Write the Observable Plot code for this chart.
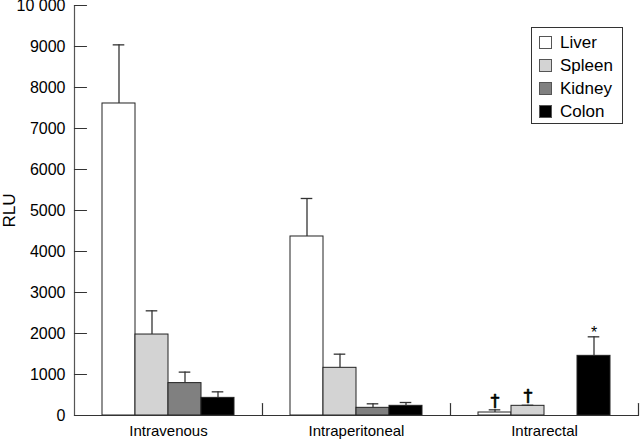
<!DOCTYPE html>
<html><head><meta charset="utf-8">
<script src="https://cdn.jsdelivr.net/npm/d3@7"></script>
<script src="https://cdn.jsdelivr.net/npm/@observablehq/plot@0.6"></script>
<style>
body{margin:0;background:#fff;font-family:"Liberation Sans",Arial,sans-serif;}
#wrap{position:relative;width:640px;height:439px;overflow:hidden;}
#legend{position:absolute;left:531px;top:27px;width:92px;height:97px;border:1px solid #333;box-sizing:border-box;background:#fff;}
.item{position:absolute;left:7px;height:20px;font-size:17px;line-height:20px;color:#000;white-space:nowrap;}
.sw{display:inline-block;width:13px;height:13px;border:1px solid #555;box-sizing:border-box;vertical-align:-1px;margin-right:8px;}
g[aria-label="y-axis label"] text{font-size:17px;}
</style></head><body><div id="wrap"></div>
<script>
const routes = ["Intravenous", "Intraperitoneal", "Intrarectal"];
const organs = ["Liver", "Spleen", "Kidney", "Colon"];
const organColors = ["#ffffff", "#d3d3d3", "#808080", "#000000"];

const intravenousMean = [7610, 1975, 790, 430];
const intravenousErr  = [1430, 578, 268, 147];
const intraperitonealMean = [4366, 1163, 187, 236];
const intraperitonealErr  = [927, 333, 98, 81];
const intrarectalMean = [73, 236, 0, 1455];
const intrarectalErr  = [65, 14, 0, 464];
const intrarectalNotes = ["†", "†", "", "*"];

const yTicks = [0, 1000, 2000, 3000, 4000, 5000, 6000, 7000, 8000, 9000, 10000];
const yTickLabels = ["0", "1000", "2000", "3000", "4000", "5000", "6000", "7000", "8000", "9000", "10 000"];

const means = [intravenousMean, intraperitonealMean, intrarectalMean];
const errs = [intravenousErr, intraperitonealErr, intrarectalErr];
const notes = [["", "", "", ""], ["", "", "", ""], intrarectalNotes];
const rows = [];
routes.forEach((r, i) => organs.forEach((o, j) => rows.push({
  route: r, organ: o, value: means[i][j], err: errs[i][j], note: notes[i][j]
})));
const errRows = rows.filter(d => d.err > 0);
const daggerRows = rows.filter(d => d.note === "†");
const starRows = rows.filter(d => d.note === "*");

const lineShape = {draw(context, l) { context.moveTo(0, 0); context.lineTo(0, -l); }};

const plot = Plot.plot({
  width: 640, height: 439,
  marginTop: 5, marginBottom: 24, marginLeft: 73, marginRight: 1,
  style: {fontFamily: "'Liberation Sans', Arial, sans-serif", fontSize: "16px", color: "#000", background: "#fff"},
  fx: {domain: routes, padding: 0, label: null},
  x: {domain: organs, paddingInner: 0, paddingOuter: 0.82, axis: null},
  y: {domain: [0, 10000]},
  color: {domain: organs, range: organColors},
  marks: [
    Plot.barY(rows, {fx: "route", x: "organ", y: "value", fill: "organ", stroke: "#222", strokeWidth: 1}),
    Plot.ruleX(errRows, {fx: "route", x: "organ", y1: "value", y2: d => d.value + d.err, stroke: "#333", strokeWidth: 1.3}),
    Plot.tickY(errRows, {fx: "route", x: "organ", y: d => d.value + d.err, inset: 10.7, stroke: "#333", strokeWidth: 1.3}),
    Plot.text(daggerRows, {fx: "route", x: "organ", y: d => d.value + d.err, text: "note", lineAnchor: "bottom", dy: -3, fontSize: 18, fontFamily: "'DejaVu Sans', sans-serif", fill: "#000", stroke: "#000", strokeWidth: 0.6}),
    Plot.text(starRows, {fx: "route", x: "organ", y: d => d.value + d.err, text: "note", lineAnchor: "bottom", dy: 1, fontSize: 16, fill: "#000"}),
    Plot.ruleY([0], {stroke: "#333", strokeWidth: 1.2}),
    Plot.frame({anchor: "left", facetAnchor: "left", stroke: "#555", strokeWidth: 1.2}),
    Plot.vector(yTicks, {y: d => d, frameAnchor: "left", rotate: 90, length: 12, anchor: "start", shape: lineShape, facetAnchor: "left", stroke: "#333", strokeWidth: 1.2}),
    Plot.vector([0], {frameAnchor: "bottom-right", length: 12, anchor: "start", shape: lineShape, stroke: "#333", strokeWidth: 1.2}),
    Plot.axisY({ticks: yTicks, tickSize: 0, tickPadding: 9, tickFormat: d => yTickLabels[yTicks.indexOf(d)], label: "RLU", labelAnchor: "center", labelArrow: "none", labelOffset: 72, fontSize: 16}),
    Plot.axisFx({anchor: "bottom", tickSize: 0, tickPadding: 10, label: null, fontSize: 15})
  ]
});
const wrap = document.getElementById("wrap");
wrap.appendChild(plot);

const legend = document.createElement("div");
legend.id = "legend";
organs.forEach((o, i) => {
  const it = document.createElement("div");
  it.className = "item";
  it.style.top = (5 + i * 23) + "px";
  const sw = document.createElement("span");
  sw.className = "sw";
  sw.style.background = organColors[i];
  it.appendChild(sw);
  it.appendChild(document.createTextNode(o));
  legend.appendChild(it);
});
wrap.appendChild(legend);
</script></body></html>
